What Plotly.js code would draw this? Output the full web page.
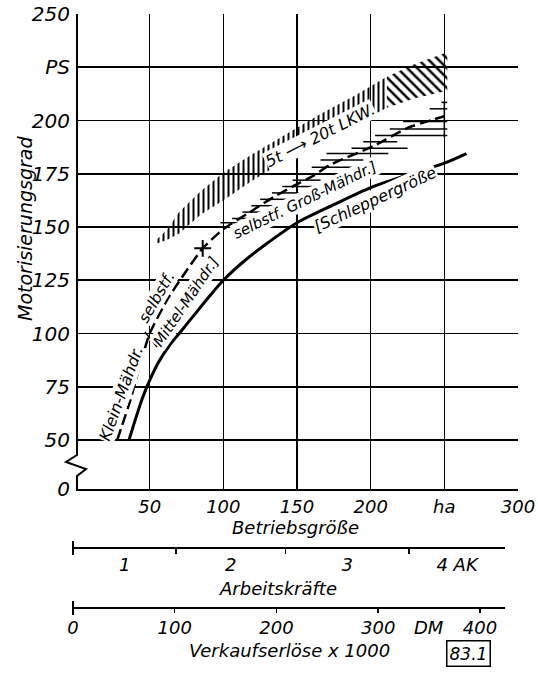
<!DOCTYPE html>
<html><head><meta charset="utf-8">
<script src="https://cdn.plot.ly/plotly-3.0.1.min.js"></script>
<style>html,body{margin:0;padding:0;background:#fff}</style>
</head><body><div id="chart" style="width:538px;height:676px"></div>
<script>
// ---------- data ----------
const schlepperHa = [36, 40, 45, 50, 56, 63, 70.6, 80, 90, 100, 115, 130, 150, 175, 200, 225, 250, 265];
const schlepperPS = [50, 59, 69.5, 78, 86.5, 94, 100.5, 108.5, 117, 125, 134.5, 142.5, 152, 160.5, 168.5, 174.5, 180, 184.5];

const maehHa = [28, 37, 45, 50, 62, 73, 86, 100, 118, 134, 147, 161, 172, 202, 225, 250];
const maehPS = [50, 69, 89, 100, 116, 127.5, 140, 149, 157, 164, 169, 174, 179, 188, 196.5, 202];

const barPS  = [152, 154, 157, 160, 163, 166, 169, 172, 175, 178, 181.5, 184.5, 187, 190, 193, 196, 199.5, 205.5, 208.5];
const barHa0 = [98, 106, 113, 119, 125, 133, 140, 147, 153, 160, 166, 170, 187, 195, 203, 213, 222, 240, 248];
const barHa1 = [110, 120, 128, 136, 143, 154, 161, 166, 174, 192, 195, 212, 225, 218, 252, 252, 252, 252, 252];
const endBarHa = [250, 250];
const endBarPS = [192, 209];
const sepHa = [46.8, 55];
const sepPS = [100.7, 93.7];
const crossHa = [86];
const crossPS = [140];

const lkwHa    = [54, 62, 70, 85, 100, 118, 146, 166, 190, 211, 230, 252];
const lkwUpper = [143.5, 149, 157, 167, 175.5, 183.5, 195, 203, 212, 220.5, 226.5, 232];
const lkwLower = [142, 144, 147, 156, 162.5, 171, 183, 190.5, 198.5, 206, 210.5, 214];
const hatchSplitHa = 211;

const yTickVals = [27, 50, 75, 100, 125, 150, 175, 200, 225, 250];
const yTickText = ['0', '50', '75', '100', '125', '150', '175', '200', 'PS', '250'];
const xTickVals = [50, 100, 150, 200, 250, 300];
const xTickText = ['50', '100', '150', '200', 'ha', '300'];

const akBounds = [-2, 68, 142, 226, 291];
const akLabels = ['1', '2', '3', '4 AK'];

const dmTickVals = [0, 100, 200, 300, 400];
const dmTickText = ['0', '100', '200', '300', '400'];

// ---------- layout helpers ----------
const W = 538, H = 676, L = 73, R = 20, T = 14, B = 68;
const pw = W - L - R, ph = H - T - B;
const px = x => (x - L) / pw;
const py = y => (H - B - y) / ph;
const F = {family: 'DejaVu Sans', style: 'italic', color: 'black'};
const font = s => Object.assign({}, F, {size: s});

// ---------- traces ----------
const traces = [];
function band(lo, hi, shape, size, sol) {
  const xs = [], ys = [];
  for (let i = 0; i < lkwHa.length; i++) if (lkwHa[i] >= lo && lkwHa[i] <= hi) { xs.push(lkwHa[i]); ys.push(lkwUpper[i]); }
  for (let i = lkwHa.length - 1; i >= 0; i--) if (lkwHa[i] >= lo && lkwHa[i] <= hi) { xs.push(lkwHa[i]); ys.push(lkwLower[i]); }
  return {x: xs, y: ys, type: 'scatter', mode: 'lines', fill: 'toself', line: {width: 0, color: 'black'},
    fillcolor: 'rgba(255,255,255,0)',
    fillpattern: {shape: shape, size: size, solidity: sol, fgcolor: 'black', bgcolor: 'rgba(255,255,255,0)'},
    hoverinfo: 'skip', showlegend: false};
}
traces.push(band(-1, hatchSplitHa, '|', 5, 0.4));
traces.push(band(hatchSplitHa, 999, '\\', 7, 0.35));

traces.push({x: schlepperHa, y: schlepperPS, type: 'scatter', mode: 'lines',
  line: {color: 'black', width: 3, shape: 'spline', smoothing: 0.8}, showlegend: false});
traces.push({x: maehHa, y: maehPS, type: 'scatter', mode: 'lines',
  line: {color: 'black', width: 2.5, dash: '11px,5px', shape: 'spline', smoothing: 0.5}, showlegend: false});

const bx = [], by = [];
for (let i = 0; i < barPS.length; i++) { bx.push(barHa0[i], barHa1[i], null); by.push(barPS[i], barPS[i], null); }
bx.push(endBarHa[0], endBarHa[1], null, sepHa[0], sepHa[1]);
by.push(endBarPS[0], endBarPS[1], null, sepPS[0], sepPS[1]);
traces.push({x: bx, y: by, type: 'scatter', mode: 'lines', line: {color: 'black', width: 1.5}, connectgaps: false, showlegend: false});
traces.push({x: crossHa, y: crossPS, type: 'scatter', mode: 'markers',
  marker: {symbol: 'cross-thin', size: 12, color: 'black', line: {width: 2, color: 'black'}}, showlegend: false});

// invisible traces so the lower scales are drawn (on their own hidden y axis)
traces.push({x: [0], y: [0], xaxis: 'x2', yaxis: 'y2', mode: 'markers', marker: {opacity: 0}, showlegend: false, hoverinfo: 'skip'});
traces.push({x: [0], y: [0], xaxis: 'x3', yaxis: 'y2', mode: 'markers', marker: {opacity: 0}, showlegend: false, hoverinfo: 'skip'});

// ---------- layout ----------
const akMid = akLabels.map((_, i) => (akBounds[i] + akBounds[i + 1]) / 2);
const akInner = akBounds.slice(1, -1);
const lowDom = [0, px(505)];

const ann = [];
function lab(text, x, y, ang, size) {
  ann.push({text: text, x: x, y: y, xref: 'x', yref: 'y', textangle: ang, showarrow: false,
    xanchor: 'center', yanchor: 'middle', font: font(size), bgcolor: 'white', borderpad: 0});
}
lab('Klein-Mähdr.', 30.5, 72, -70, 16);
lab('selbstf.', 55, 117, -60, 15.5);
lab('Mittel-Mähdr.]', 74.5, 114.8, -56, 15);
lab('selbstf. Groß-Mähdr.]', 155.4, 162.7, -26, 15);
lab('[Schleppergröße', 203, 162.7, -25, 16);
lab('5t ⟶ 20t LKW.', 165.5, 193, -27, 16);

function pann(text, x, y, size, extra) {
  ann.push(Object.assign({text: text, x: x, y: y, xref: 'paper', yref: 'paper', showarrow: false,
    xanchor: 'center', yanchor: 'middle', font: font(size)}, extra || {}));
}
pann('Motorisierungsgrad', px(25), py(229), 19, {textangle: -90});
pann('Betriebsgröße', px(295), py(527), 18);
pann('Arbeitskräfte', px(278), py(588), 18);
pann('Verkaufserlöse x 1000', px(289), py(650), 18);
pann('83.1', px(468), py(653), 17, {bordercolor: 'black', borderwidth: 1.5, borderpad: 2});
ann.push({text: 'DM', x: 350, xref: 'x3', y: py(627), yref: 'paper', showarrow: false,
  xanchor: 'center', yanchor: 'middle', font: font(18)});

const zz = [[77, 14], [77, 455], [66, 462], [86, 469], [77, 476], [77, 489]];
const zzPath = 'M ' + zz.map(p => px(p[0]) + ',' + py(p[1])).join(' L ');

const shapes = [
  {type: 'path', path: zzPath, xref: 'paper', yref: 'paper', line: {color: 'black', width: 2}},
  {type: 'line', xref: 'paper', yref: 'paper', x0: 0, x1: 0, y0: py(541), y1: py(555), line: {color: 'black', width: 2}},
  {type: 'line', xref: 'paper', yref: 'paper', x0: 0, x1: 0, y0: py(601), y1: py(615), line: {color: 'black', width: 2}}
];

const layout = {
  width: W, height: H,
  margin: {l: L, r: R, t: T, b: B, pad: 0},
  paper_bgcolor: 'white', plot_bgcolor: 'rgba(0,0,0,0)',
  showlegend: false,
  font: font(18),
  xaxis: {domain: [px(76), 1], range: [0, 300], tickvals: xTickVals, ticktext: xTickText,
    showgrid: true, gridcolor: 'black', gridwidth: 1.6, zeroline: false,
    showline: true, linecolor: 'black', linewidth: 2, ticks: '', tickfont: font(18)},
  yaxis: {domain: [py(489), 1], range: [27, 250], tickvals: yTickVals, ticktext: yTickText,
    showgrid: true, gridcolor: 'black', gridwidth: 1.6, zeroline: false,
    showline: false, ticks: '', tickfont: font(20), ticklabelstandoff: 5},
  yaxis2: {domain: [0, py(500)], range: [0, 1], visible: false, fixedrange: true},
  xaxis2: {domain: lowDom, anchor: 'free', position: py(548), range: [akBounds[0], akBounds[akBounds.length - 1]],
    tickvals: akMid, ticktext: akLabels, ticks: '', showgrid: false, zeroline: false,
    showline: true, linecolor: 'black', linewidth: 2, tickfont: font(18), ticklabelstandoff: 0,
    minor: {tickmode: 'array', tickvals: akInner, ticks: 'outside', ticklen: 5, tickwidth: 1.5, tickcolor: 'black', showgrid: false}},
  xaxis3: {domain: lowDom, anchor: 'free', position: 0, range: [0, 424.6],
    tickvals: dmTickVals, ticktext: dmTickText, ticks: '', ticklabelstandoff: 3,
    minor: {tickmode: 'array', tickvals: dmTickVals, ticks: 'outside', ticklen: 4, tickwidth: 1.5, tickcolor: 'black', showgrid: false},
    showgrid: false, zeroline: false, showline: true, linecolor: 'black', linewidth: 2, tickfont: font(18)},
  annotations: ann,
  shapes: shapes
};

Plotly.newPlot('chart', traces, layout, {staticPlot: true, displayModeBar: false});
</script></body></html>
